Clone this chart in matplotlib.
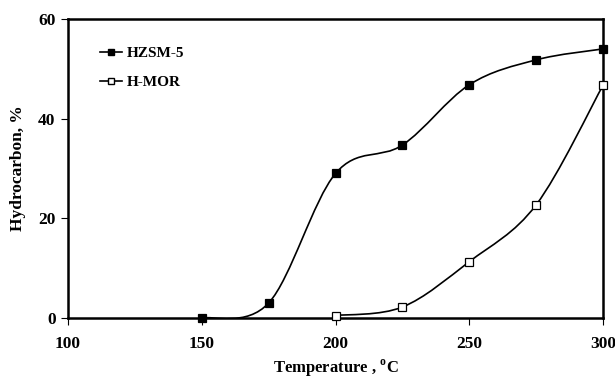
import numpy as np
import matplotlib
matplotlib.use('Agg')
from matplotlib import pyplot as plt
from matplotlib.path import Path
from matplotlib.patches import PathPatch
from matplotlib.lines import Line2D

plt.rcParams['font.family'] = 'Liberation Serif'
plt.rcParams['font.weight'] = 'bold'
plt.rcParams['mathtext.fontset'] = 'custom'
plt.rcParams['mathtext.rm'] = 'Liberation Serif:bold'

# Values

temp_hzsm = [150, 175, 200, 225, 250, 275, 300]
hc_hzsm = [0.0, 3.0, 29.0, 34.7, 46.8, 51.8, 54.0]

temp_hmor = [200, 225, 250, 275, 300]
hc_hmor = [0.5, 2.2, 11.3, 22.7, 46.7]

x_ticks = [100, 150, 200, 250, 300]
y_ticks = [0, 20, 40, 60]


# Excel-style smoothed line: cubic bezier segments through the points
def smooth_path(xs, ys):
    p = np.column_stack([xs, ys]).astype(float)
    n = len(p)
    verts = [p[0]]
    codes = [Path.MOVETO]
    for i in range(n - 1):
        prev = p[i - 1] if i > 0 else p[i]
        nxt = p[i + 2] if i + 2 < n else p[i + 1]
        c1 = p[i] + (p[i + 1] - prev) / 6.0
        c2 = p[i + 1] - (nxt - p[i]) / 6.0
        verts += [c1, c2, p[i + 1]]
        codes += [Path.CURVE4] * 3
    return Path(verts, codes)


fig = plt.figure(figsize=(6.15, 3.81), dpi=100)
ax = fig.add_axes([68 / 615, 1 - 318 / 381, (603 - 68) / 615, (318 - 19) / 381])

for xs, ys, face in [(temp_hzsm, hc_hzsm, 'black'), (temp_hmor, hc_hmor, 'white')]:
    ax.add_patch(PathPatch(smooth_path(xs, ys), facecolor='none', edgecolor='black', lw=1.2, zorder=2))
    ax.plot(xs, ys, ls='none', marker='s', ms=6, mfc=face, mec='black', mew=0.9, zorder=3, clip_on=False)

ax.set_xlim(100, 300)
ax.set_ylim(0, 60)
ax.set_xticks(x_ticks)
ax.set_yticks(y_ticks)
ax.tick_params(direction='out', length=5, width=0.8, labelsize=12.5, pad=8)
ax.tick_params(axis='y', pad=4)
for s in ax.spines.values():
    s.set_linewidth(1.8)

ax.set_xlabel('Temperature , $^{\\mathregular{o}}$C', fontsize=12, fontweight='bold', labelpad=4)
ax.set_ylabel('Hydrocarbon, %', fontsize=12.5, fontweight='bold', labelpad=9)

handles = [
    Line2D([], [], color='black', lw=1.2, marker='s', ms=4.5, mfc='black', mec='black'),
    Line2D([], [], color='black', lw=1.2, marker='s', ms=4.5, mfc='white', mec='black'),
]
ax.legend(handles, ['HZSM-5', 'H-MOR'], loc='upper left', bbox_to_anchor=(0.035, 0.955),
          frameon=False, fontsize=11, handlelength=1.4, handletextpad=0.3, labelspacing=1.0)

fig.savefig('out.png', dpi=100)
